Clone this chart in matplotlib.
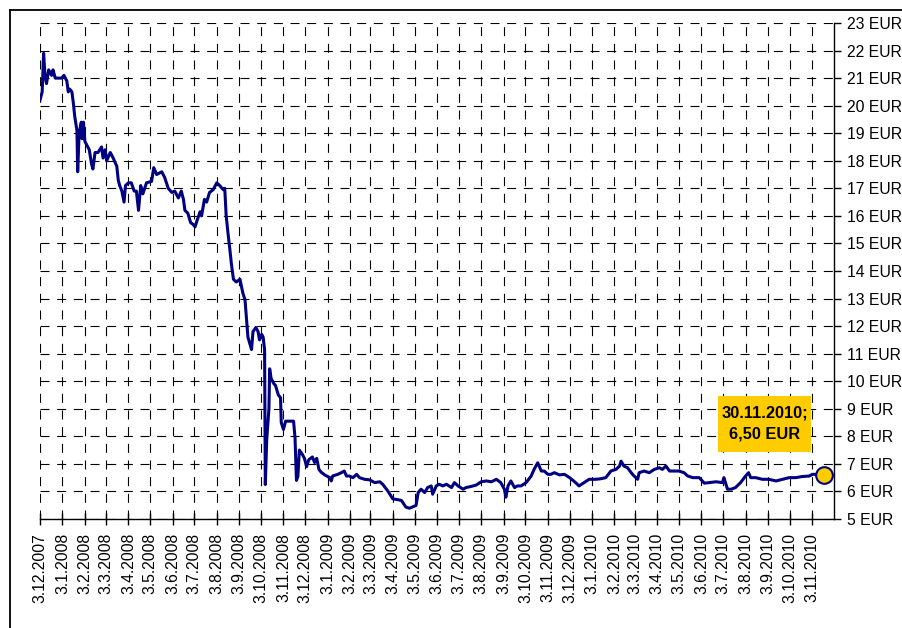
import matplotlib
matplotlib.use("Agg")
import matplotlib.pyplot as plt
import matplotlib.transforms as mtransforms
from matplotlib.patches import Rectangle
from matplotlib.lines import Line2D
import pandas as pd

plt.rcParams['font.family'] = ['Liberation Sans', 'DejaVu Sans']
plt.rcParams['lines.scale_dashes'] = False

# share price, EUR
dates = [
    "2007-12-03", "2007-12-06", "2007-12-08", "2007-12-10", "2007-12-12", "2007-12-15",
    "2007-12-19", "2007-12-21", "2007-12-24", "2008-01-02", "2008-01-05", "2008-01-09",
    "2008-01-11", "2008-01-13", "2008-01-16", "2008-01-18", "2008-01-20", "2008-01-23",
    "2008-01-24", "2008-01-26", "2008-01-29", "2008-01-30", "2008-02-01", "2008-02-03",
    "2008-02-05", "2008-02-09", "2008-02-12", "2008-02-14", "2008-02-17", "2008-02-21",
    "2008-02-26", "2008-02-28", "2008-03-02", "2008-03-04", "2008-03-09", "2008-03-13",
    "2008-03-18", "2008-03-20", "2008-03-22", "2008-03-25", "2008-03-28", "2008-03-30",
    "2008-04-03", "2008-04-07", "2008-04-11", "2008-04-14", "2008-04-17", "2008-04-20",
    "2008-04-23", "2008-04-28", "2008-05-05", "2008-05-08", "2008-05-12", "2008-05-19",
    "2008-05-23", "2008-05-28", "2008-06-02", "2008-06-06", "2008-06-11", "2008-06-15",
    "2008-06-18", "2008-06-20", "2008-06-24", "2008-06-28", "2008-07-01", "2008-07-04",
    "2008-07-07", "2008-07-11", "2008-07-13", "2008-07-17", "2008-07-20", "2008-07-24",
    "2008-07-29", "2008-08-03", "2008-08-07", "2008-08-12", "2008-08-14", "2008-08-16",
    "2008-08-19", "2008-08-21", "2008-08-23", "2008-08-26", "2008-08-30", "2008-09-04",
    "2008-09-08", "2008-09-11", "2008-09-15", "2008-09-20", "2008-09-22", "2008-09-26",
    "2008-09-29", "2008-10-01", "2008-10-04", "2008-10-06", "2008-10-08", "2008-10-09",
    "2008-10-11", "2008-10-14", "2008-10-15", "2008-10-17", "2008-10-21", "2008-10-23",
    "2008-10-27", "2008-10-30", "2008-10-31", "2008-11-03", "2008-11-06", "2008-11-17",
    "2008-11-19", "2008-11-21", "2008-11-23", "2008-11-25", "2008-11-29", "2008-12-02",
    "2008-12-05", "2008-12-08", "2008-12-13", "2008-12-16", "2008-12-19", "2008-12-22",
    "2008-12-25", "2008-12-30", "2009-01-06", "2009-01-08", "2009-01-10", "2009-01-17",
    "2009-01-22", "2009-01-26", "2009-01-29", "2009-02-02", "2009-02-07", "2009-02-12",
    "2009-02-16", "2009-02-23", "2009-03-02", "2009-03-09", "2009-03-16", "2009-03-20",
    "2009-03-27", "2009-04-03", "2009-04-10", "2009-04-15", "2009-04-21", "2009-04-26",
    "2009-05-05", "2009-05-08", "2009-05-12", "2009-05-17", "2009-05-21", "2009-05-26",
    "2009-05-28", "2009-06-02", "2009-06-06", "2009-06-11", "2009-06-16", "2009-06-23",
    "2009-06-27", "2009-07-02", "2009-07-09", "2009-07-13", "2009-07-20", "2009-07-27",
    "2009-08-03", "2009-08-10", "2009-08-17", "2009-08-24", "2009-08-30", "2009-09-04",
    "2009-09-06", "2009-09-09", "2009-09-13", "2009-09-18", "2009-09-22", "2009-09-27",
    "2009-10-04", "2009-10-11", "2009-10-15", "2009-10-20", "2009-10-25", "2009-10-29",
    "2009-11-03", "2009-11-07", "2009-11-12", "2009-11-19", "2009-11-26", "2009-12-03",
    "2009-12-10", "2009-12-16", "2009-12-23", "2009-12-30", "2010-01-08", "2010-01-15",
    "2010-01-22", "2010-01-29", "2010-02-05", "2010-02-10", "2010-02-12", "2010-02-16",
    "2010-02-21", "2010-02-26", "2010-03-02", "2010-03-07", "2010-03-09", "2010-03-16",
    "2010-03-23", "2010-03-30", "2010-04-06", "2010-04-10", "2010-04-15", "2010-04-20",
    "2010-04-26", "2010-05-03", "2010-05-10", "2010-05-15", "2010-05-22", "2010-05-31",
    "2010-06-07", "2010-06-14", "2010-06-23", "2010-07-02", "2010-07-04", "2010-07-09",
    "2010-07-14", "2010-07-20", "2010-07-27", "2010-08-03", "2010-08-07", "2010-08-10",
    "2010-08-17", "2010-08-26", "2010-09-04", "2010-09-14", "2010-09-23", "2010-10-02",
    "2010-10-11", "2010-10-20", "2010-10-30", "2010-11-03", "2010-11-12", "2010-11-19",
    "2010-11-30",
]
prices = [
    20.2, 20.5, 21.9, 21.05, 20.8, 21.3,
    21.1, 21.3, 21.0, 21.0, 21.1, 20.9,
    20.5, 20.6, 20.5, 20.1, 19.6, 19.1,
    17.6, 19.0, 19.4, 18.8, 19.4, 18.7,
    18.6, 18.4, 17.9, 17.7, 18.3, 18.3,
    18.5, 18.1, 18.4, 18.0, 18.3, 18.1,
    17.8, 17.3, 17.1, 16.9, 16.5, 17.1,
    17.2, 17.2, 16.9, 16.9, 16.2, 17.1,
    16.8, 17.2, 17.25, 17.75, 17.5, 17.6,
    17.4, 17.0, 16.85, 16.9, 16.65, 16.9,
    16.6, 16.2, 16.1, 15.75, 15.7, 15.6,
    15.85, 16.15, 16.0, 16.6, 16.5, 16.85,
    16.95, 17.2, 17.1, 16.95, 17.0, 16.0,
    15.25, 14.8, 14.3, 13.7, 13.6, 13.7,
    13.2, 12.95, 11.6, 11.15, 11.8, 11.95,
    11.8, 11.5, 11.7, 11.6, 11.15, 6.25,
    7.9, 9.0, 10.45, 10.1, 9.9, 9.85,
    9.5, 9.4, 8.5, 8.25, 8.55, 8.55,
    7.95, 6.4, 6.55, 7.5, 7.35, 7.2,
    6.9, 7.15, 7.25, 7.05, 7.2, 6.8,
    6.7, 6.6, 6.5, 6.38, 6.56, 6.62,
    6.68, 6.74, 6.56, 6.56, 6.5, 6.62,
    6.5, 6.44, 6.42, 6.32, 6.35, 6.26,
    6.02, 5.73, 5.7, 5.67, 5.43, 5.39,
    5.49, 5.96, 6.08, 5.96, 6.14, 6.2,
    5.9, 6.2, 6.26, 6.2, 6.26, 6.14,
    6.32, 6.2, 6.08, 6.14, 6.18, 6.23,
    6.35, 6.38, 6.35, 6.44, 6.32, 6.08,
    5.79, 6.2, 6.38, 6.14, 6.2, 6.2,
    6.32, 6.56, 6.8, 7.04, 6.74, 6.74,
    6.62, 6.62, 6.68, 6.6, 6.62, 6.5,
    6.35, 6.2, 6.32, 6.44, 6.44, 6.46,
    6.5, 6.74, 6.8, 6.92, 7.1, 6.92,
    6.86, 6.68, 6.56, 6.44, 6.68, 6.74,
    6.68, 6.8, 6.86, 6.8, 6.92, 6.74,
    6.74, 6.74, 6.68, 6.56, 6.5, 6.5,
    6.3, 6.32, 6.35, 6.32, 6.5, 6.08,
    6.08, 6.14, 6.32, 6.56, 6.68, 6.5,
    6.5, 6.44, 6.44, 6.38, 6.44, 6.5,
    6.5, 6.54, 6.56, 6.62, 6.62, 6.62,
    6.6,
]
tick_dates = pd.date_range("2007-12-03", "2010-11-03", freq=pd.DateOffset(months=1))
y_ticks = list(range(5, 24))
last_label = "30.11.2010;\n6,50 EUR"

x = pd.to_datetime(dates)

fig = plt.figure(figsize=(9.03, 6.28), dpi=100)
ax = fig.add_axes([0.0443, 0.1736, 0.8793, 0.7898])

ax.plot(x, prices, color="#000080", lw=2.2, solid_joinstyle="round", zorder=3)

# end marker, slightly left of the last point like in the original
mtrans = mtransforms.offset_copy(ax.transData, fig=fig, x=-8, y=0, units="dots")
ax.plot([x[-1]], [prices[-1]], "o", ms=12, mfc="#FFCC00", mec="#000080",
        mew=1.5, transform=mtrans, clip_on=False, zorder=4)

ax.set_xlim(pd.Timestamp("2007-12-03"), pd.Timestamp("2010-12-03"))
ax.set_ylim(5, 23)

ax.set_xticks(tick_dates)
ax.set_xticklabels([f"{d.day}.{d.month}.{d.year}" for d in tick_dates],
                   rotation=90, fontsize=11.3)
ax.set_yticks(y_ticks)
ax.set_yticklabels([f"{v} EUR" for v in y_ticks], fontsize=11.3)

ax.yaxis.tick_right()
ax.tick_params(axis="y", direction="out", length=5, width=1, pad=4)
ax.tick_params(axis="x", direction="inout", length=8, width=1, pad=6)

ax.grid(True, color="black", lw=0.8, linestyle=(0, (6.5, 5.5)))
ax.set_axisbelow(True)

for side in ["left", "top"]:
    ax.spines[side].set_visible(False)
ax.spines["right"].set_linewidth(1.0)
ax.spines["bottom"].set_linewidth(1.0)

# yellow label box
ax.add_patch(Rectangle((0.854, 0.135), 0.117, 0.113, transform=ax.transAxes,
                       facecolor="#FFCC00", edgecolor="none", zorder=5))
ax.text(0.9125, 0.1915, last_label, transform=ax.transAxes, ha="center", va="center",
        fontsize=11.8, fontweight="bold", linespacing=1.5, zorder=6)

# outer chart frame (cut off at the image edges)
fig.add_artist(Line2D([10 / 903, 10 / 903], [-0.1, 1 - 10 / 628], color="black", lw=1.3))
fig.add_artist(Line2D([10 / 903, 1.1], [1 - 10 / 628, 1 - 10 / 628], color="black", lw=1.3))

fig.savefig("out.png", dpi=100, facecolor="white")
